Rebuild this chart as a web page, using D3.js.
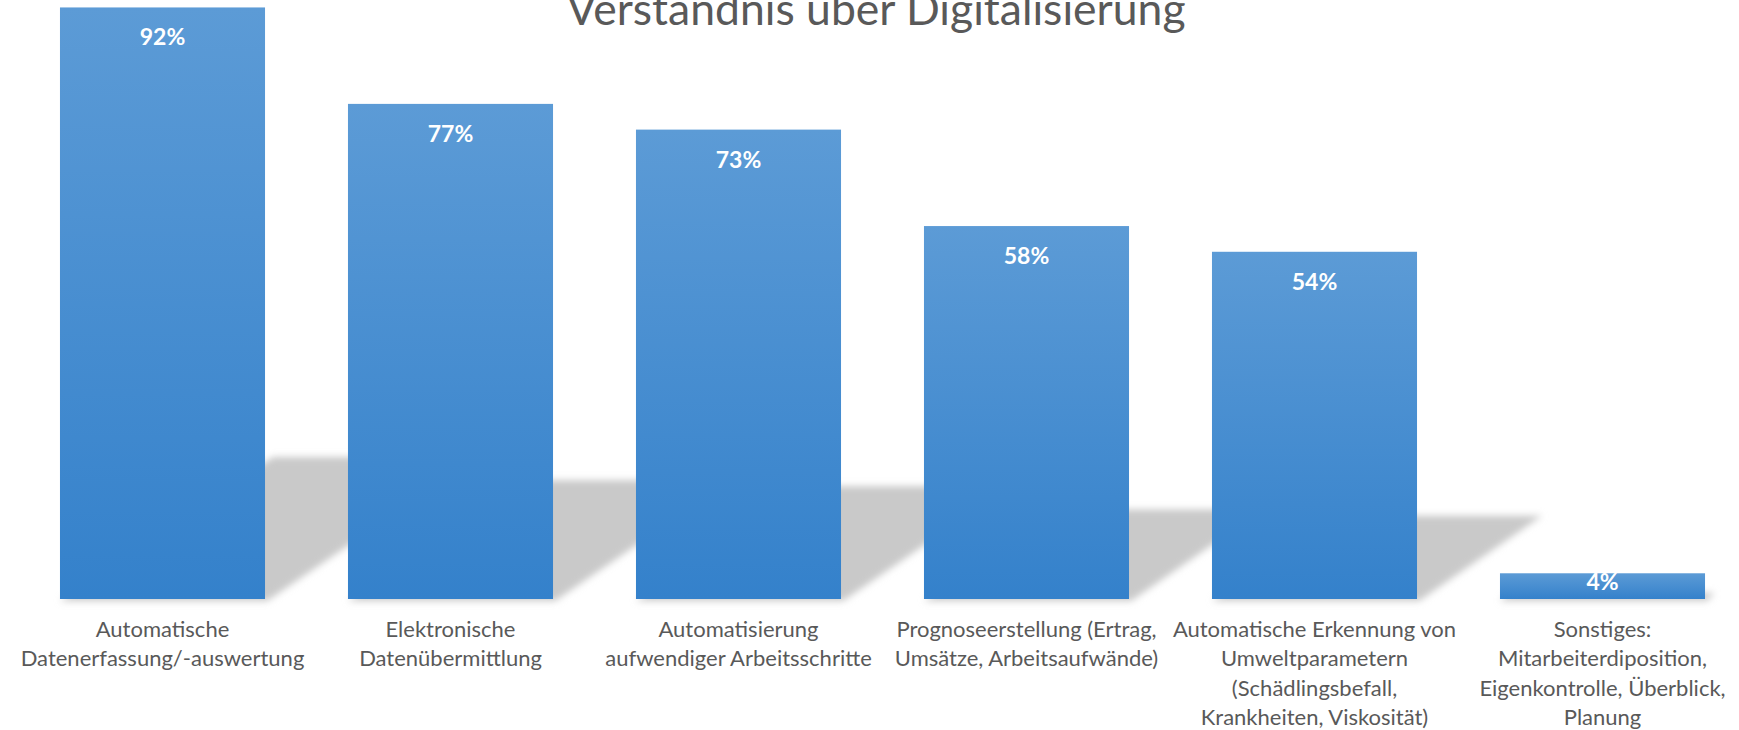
<!DOCTYPE html>
<html>
<head>
<meta charset="utf-8">
<script src="https://cdn.jsdelivr.net/npm/d3@7"></script>
<style>
  body { margin: 0; background: #fff; }
  svg { display: block; }
</style>
</head>
<body>
<svg id="chart"></svg>
<script>
const width = 1739;
const height = 730;
const baseline = 599;

// data
const categories = [
  'Automatische\nDatenerfassung/-auswertung',
  'Elektronische\nDatenübermittlung',
  'Automatisierung\naufwendiger Arbeitsschritte',
  'Prognoseerstellung (Ertrag,\nUmsätze, Arbeitsaufwände)',
  'Automatische Erkennung von\nUmweltparametern\n(Schädlingsbefall,\nKrankheiten, Viskosität)',
  'Sonstiges:\nMitarbeiterdiposition,\nEigenkontrolle, Überblick,\nPlanung'
];
const values = [92, 77, 73, 58, 54, 4];
const title = 'Verständnis über Digitalisierung';

const data = categories.map((c, i) => ({name: c, value: values[i]}));

const svg = d3.select('#chart')
  .attr('width', width)
  .attr('height', height);

const defs = svg.append('defs');

const grad = defs.append('linearGradient')
  .attr('id', 'barGrad')
  .attr('x1', 0).attr('y1', 0)
  .attr('x2', 0).attr('y2', 1);
grad.append('stop').attr('offset', '0%').attr('stop-color', '#5c9bd6');
grad.append('stop').attr('offset', '100%').attr('stop-color', '#3481cb');

defs.append('filter')
  .attr('id', 'blur')
  .attr('x', '-20%').attr('y', '-20%')
  .attr('width', '140%').attr('height', '140%')
  .append('feGaussianBlur')
  .attr('stdDeviation', 3.5);

const xScale = d3.scaleBand()
  .domain(categories)
  .range([18.5, 1746.5])
  .paddingInner(0.288)
  .paddingOuter(0.144);

const yScale = d3.scaleLinear()
  .domain([0, 100])
  .range([baseline, -44]);

// perspective shadow behind each bar
svg.append('g')
  .attr('filter', 'url(#blur)')
  .selectAll('polygon')
  .data(data)
  .enter()
  .append('polygon')
  .attr('fill', '#c9c9c9')
  .attr('points', d => {
    const x0 = xScale(d.name);
    const x1 = x0 + xScale.bandwidth();
    const h = baseline - yScale(d.value);
    const sh = h * 0.24;
    const shift = h * 0.36;
    return [[x0, baseline + 2], [x1 + 2, baseline + 2],
      [x1 + shift, baseline - sh], [x0 + shift, baseline - sh]].join(' ');
  });

svg.append('g')
  .selectAll('rect')
  .data(data)
  .enter()
  .append('rect')
  .attr('x', d => xScale(d.name))
  .attr('y', d => yScale(d.value))
  .attr('width', xScale.bandwidth())
  .attr('height', d => baseline - yScale(d.value))
  .attr('fill', 'url(#barGrad)');

// value labels
svg.append('g')
  .selectAll('text')
  .data(data)
  .enter()
  .append('text')
  .text(d => d.value + '%')
  .attr('x', d => xScale(d.name) + xScale.bandwidth() / 2)
  .attr('y', d => Math.min(yScale(d.value) + 38, baseline - 9))
  .attr('text-anchor', 'middle')
  .attr('fill', '#fff')
  .style('font-family', 'Lato, "Open Sans", sans-serif')
  .style('font-weight', 'bold')
  .style('font-size', '23px');

// category axis
const xAxis = d3.axisBottom(xScale).tickSize(0).tickPadding(0);
const axisG = svg.append('g')
  .attr('transform', `translate(0, ${baseline})`)
  .call(xAxis);
axisG.select('.domain').remove();
axisG.selectAll('text')
  .attr('dy', null)
  .attr('y', 0)
  .attr('fill', '#595959')
  .style('font-family', 'Lato, "Open Sans", sans-serif')
  .style('font-size', '22px')
  .each(function(d) {
    const t = d3.select(this).text('');
    d.split('\n').forEach((line, i) => {
      t.append('tspan')
        .attr('x', 0)
        .attr('y', 38 + i * 29.3)
        .text(line);
    });
  });

svg.append('text')
  .text(title)
  .attr('x', 876)
  .attr('y', 25)
  .attr('text-anchor', 'middle')
  .attr('fill', '#595959')
  .style('font-family', 'Lato, "Open Sans", sans-serif')
  .style('font-size', '44.5px');
</script>
</body>
</html>
